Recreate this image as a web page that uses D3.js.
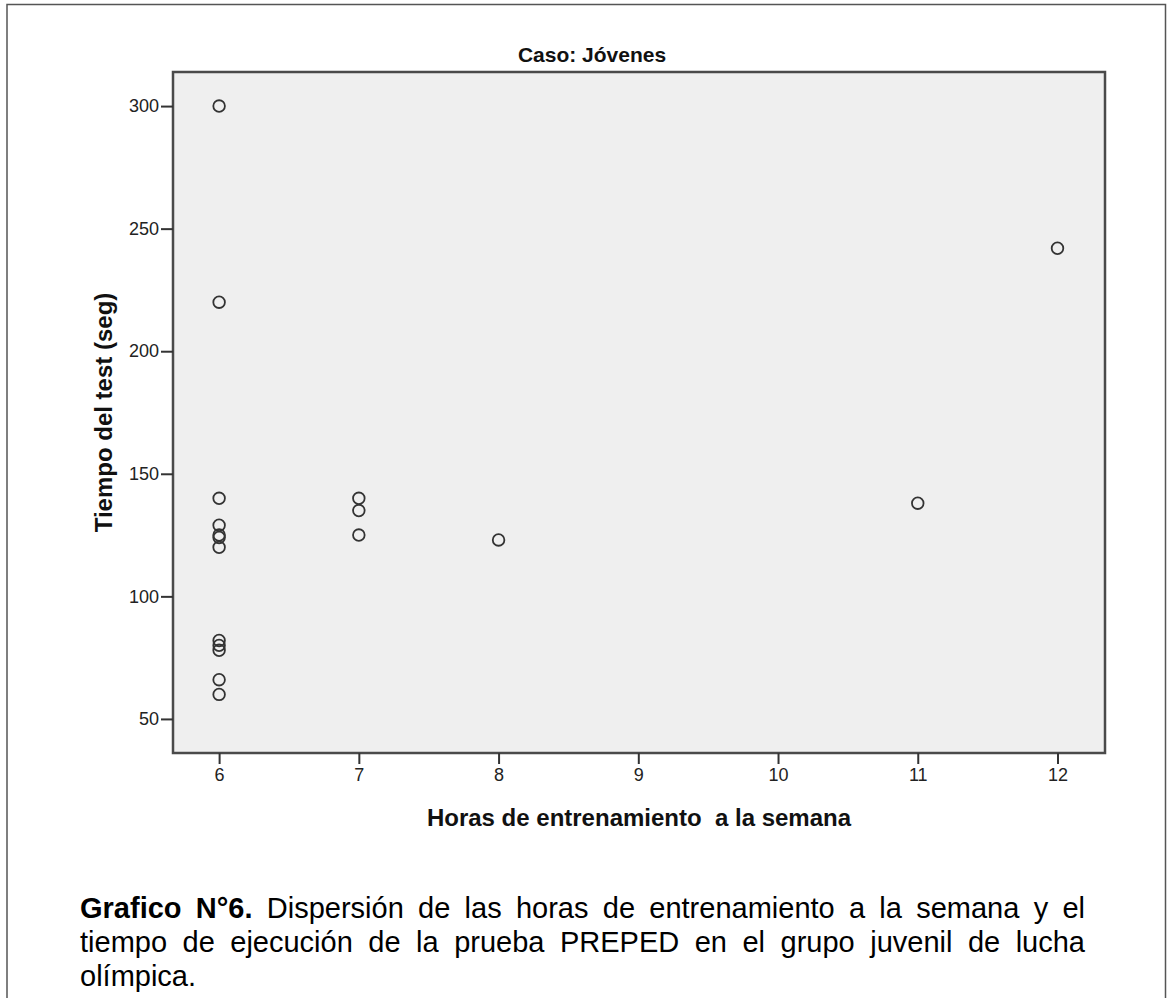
<!DOCTYPE html>
<html>
<head>
<meta charset="utf-8">
<script src="https://cdn.jsdelivr.net/npm/d3@7"></script>
<style>
  body { margin: 0; background: #fff; }
  svg { display: block; }
</style>
</head>
<body>
<svg id="chart" width="1167" height="998"></svg>
<script>
// Horas de entrenamiento (x) y tiempo del test (y), one entry per athlete
const hours = [6, 6, 6, 6, 6, 6, 6, 6, 6, 6, 6, 6, 7, 7, 7, 8, 11, 12];
const times = [300, 220, 140, 129, 125, 124, 120, 82, 80, 78, 66, 60, 140, 135, 125, 123, 138, 242];

const xTicks = [6, 7, 8, 9, 10, 11, 12];
const yTicks = [50, 100, 150, 200, 250, 300];

const title = "Caso: Jóvenes";
const xLabel = "Horas de entrenamiento  a la semana";
const yLabel = "Tiempo del test (seg)";
const captionBold = "Grafico N°6.";
const captionLines = [
  " Dispersión de las horas de entrenamiento a la semana y el",
  "tiempo de ejecución de la prueba PREPED en el grupo juvenil de lucha",
  "olímpica."
];

const font = "Arial, 'Liberation Sans', sans-serif";
const svg = d3.select("#chart");

// outer frame (open at the bottom)
svg.append("path")
  .attr("d", "M7,998 V4.5 H1165.5 V998")
  .attr("fill", "none")
  .attr("stroke", "#555")
  .attr("stroke-width", 1.5);

const plot = { left: 173, top: 72, right: 1105, bottom: 753 };

const x = d3.scaleLinear().domain([5.67, 12.34]).range([plot.left, plot.right]);
const y = d3.scaleLinear().domain([36.1, 313.9]).range([plot.bottom, plot.top]);

svg.append("rect")
  .attr("x", plot.left)
  .attr("y", plot.top)
  .attr("width", plot.right - plot.left)
  .attr("height", plot.bottom - plot.top)
  .attr("fill", "#efefef")
  .attr("stroke", "#4a4a4a")
  .attr("stroke-width", 2.5);

const yAxis = svg.append("g")
  .attr("transform", `translate(${plot.left},0)`)
  .call(d3.axisLeft(y).tickValues(yTicks).tickSize(12).tickPadding(2).tickFormat(d3.format("d")));

const xAxis = svg.append("g")
  .attr("transform", `translate(0,${plot.bottom})`)
  .call(d3.axisBottom(x).tickValues(xTicks).tickSize(11).tickPadding(4).tickFormat(d3.format("d")));

[xAxis, yAxis].forEach(g => {
  g.select(".domain").remove();
  g.selectAll(".tick line").attr("stroke", "#333").attr("stroke-width", 2);
  g.selectAll(".tick text")
    .attr("fill", "#222")
    .attr("font-family", font)
    .attr("font-size", 18);
});

svg.append("g")
  .selectAll("circle")
  .data(hours.map((h, i) => [h, times[i]]))
  .enter()
  .append("circle")
  .attr("cx", d => x(d[0]))
  .attr("cy", d => y(d[1]))
  .attr("r", 5.8)
  .attr("fill", "none")
  .attr("stroke", "#333")
  .attr("stroke-width", 1.8);

svg.append("text")
  .text(title)
  .attr("x", 592)
  .attr("y", 62)
  .attr("text-anchor", "middle")
  .attr("font-family", font)
  .attr("font-weight", "bold")
  .attr("font-size", 21)
  .attr("fill", "#111");

svg.append("text")
  .text(xLabel)
  .attr("x", (plot.left + plot.right) / 2)
  .attr("y", 826)
  .attr("text-anchor", "middle")
  .attr("font-family", font)
  .attr("font-weight", "bold")
  .attr("font-size", 24)
  .attr("fill", "#111")
  .style("white-space", "pre");

svg.append("text")
  .text(yLabel)
  .attr("transform", `translate(112,${(plot.top + plot.bottom) / 2}) rotate(-90)`)
  .attr("text-anchor", "middle")
  .attr("font-family", font)
  .attr("font-weight", "bold")
  .attr("font-size", 24)
  .attr("fill", "#111");

// caption, justified between x=80 and x=1085 via word spacing
const capLeft = 80, capRight = 1085, capSize = 29;
const baselines = [918, 952, 986];
captionLines.forEach((line, i) => {
  const t = svg.append("text")
    .attr("x", capLeft)
    .attr("y", baselines[i])
    .attr("font-family", font)
    .attr("font-size", capSize)
    .attr("fill", "#000")
    .style("white-space", "pre");
  if (i === 0) t.append("tspan").attr("font-weight", "bold").text(captionBold);
  t.append("tspan").text(line);
  if (i < 2) {
    const full = (i === 0 ? captionBold : "") + line;
    const gaps = full.split(" ").length - 1;
    const extra = (capRight - capLeft - t.node().getComputedTextLength()) / gaps;
    t.attr("word-spacing", extra);
  }
});
</script>
</body>
</html>
